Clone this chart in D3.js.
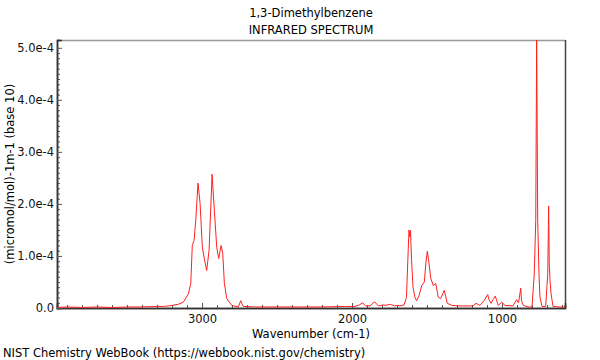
<!DOCTYPE html>
<html><head><meta charset="utf-8">
<script src="https://cdn.jsdelivr.net/npm/d3@7"></script>
<style>body{margin:0;background:#fff}svg{display:block;font-family:"DejaVu Sans",sans-serif}</style>
</head><body><svg id="c" width="600" height="360"></svg>
<script>
const title = "1,3-Dimethylbenzene";
const subtitle = "INFRARED SPECTRUM";
const xLabel = "Wavenumber (cm-1)";
const yLabel = "(micromol/mol)-1m-1 (base 10)";
const footer = "NIST Chemistry WebBook (https://webbook.nist.gov/chemistry)";
const xTickValues = [3000, 2000, 1000];
const xTickLabels = ["3000", "2000", "1000"];
const yTickValues = [0, 1, 2, 3, 4, 5];           // in units of 1e-4
const yTickLabels = ["0.0", "1.0e-4", "2.0e-4", "3.0e-4", "4.0e-4", "5.0e-4"];
// spectrum: wavenumber (cm-1) and absorbance coefficient (units of 1e-4)
const wavenumber = [3967, 3900, 3800, 3700, 3600, 3500, 3400, 3300, 3250, 3200, 3160, 3125, 3091, 3075, 3065, 3053, 3042, 3027, 3013, 2998, 2985, 2969, 2953, 2933, 2918, 2902, 2889, 2873, 2862, 2851, 2835, 2802, 2758, 2742, 2725, 2650, 2500, 2350, 2200, 2050, 1980, 1950, 1930, 1910, 1880, 1849, 1825, 1790, 1775, 1750, 1735, 1715, 1700, 1680, 1653, 1637, 1625, 1620, 1615, 1610, 1603, 1593, 1580, 1569, 1553, 1535, 1518, 1507, 1498, 1489, 1475, 1458, 1442, 1425, 1409, 1385, 1365, 1333, 1290, 1247, 1193, 1173, 1147, 1120, 1095, 1087, 1073, 1060, 1045, 1033, 1025, 1002, 980, 927, 902, 890, 875, 870, 858, 827, 800, 785, 775, 769, 762, 753, 747, 733, 709, 700, 695, 689, 685, 680, 673, 660, 620, 580];
const absorbance = [0.01, 0.02, 0.01, 0.02, 0.01, 0.02, 0.02, 0.03, 0.03, 0.05, 0.07, 0.11, 0.27, 0.47, 1.20, 1.30, 1.68, 2.40, 2.01, 1.17, 0.95, 0.72, 1.11, 2.57, 1.88, 1.17, 0.95, 1.20, 1.05, 0.47, 0.18, 0.05, 0.02, 0.14, 0.03, 0.02, 0.02, 0.02, 0.02, 0.03, 0.03, 0.06, 0.10, 0.04, 0.04, 0.12, 0.04, 0.06, 0.05, 0.07, 0.06, 0.04, 0.05, 0.04, 0.06, 0.20, 1.14, 1.50, 1.37, 1.49, 0.91, 0.39, 0.20, 0.14, 0.24, 0.43, 0.50, 0.88, 1.09, 0.91, 0.57, 0.43, 0.47, 0.21, 0.18, 0.34, 0.09, 0.05, 0.04, 0.04, 0.04, 0.09, 0.05, 0.14, 0.26, 0.16, 0.09, 0.16, 0.23, 0.12, 0.05, 0.11, 0.05, 0.04, 0.16, 0.10, 0.38, 0.14, 0.05, 0.02, 0.02, 0.66, 1.68, 5.20, 1.68, 0.62, 0.21, 0.03, 0.03, 0.43, 0.66, 1.96, 0.86, 0.53, 0.28, 0.03, 0.02, 0.02];

const svg = d3.select("#c");
const L = 57, R = 565, T = 40, B = 308;
const FS = 11.5;
const x = d3.scaleLinear().domain([3967, 580]).range([L, R]);
const y = d3.scaleLinear().domain([0, 5.15]).range([B, T]);

svg.append("defs").append("clipPath").attr("id", "clip")
  .append("rect").attr("x", L).attr("y", T).attr("width", R - L).attr("height", B - T);

// frame top/right
svg.append("line").attr("x1", L).attr("x2", R).attr("y1", T + 0.5).attr("y2", T + 0.5).attr("stroke", "#999").attr("stroke-width", 1.5);
svg.append("line").attr("x1", R + 0.5).attr("x2", R + 0.5).attr("y1", T).attr("y2", B).attr("stroke", "#444").attr("stroke-width", 1.5);

// x axis (ticks inward)
const xMinor = d3.range(600, 3967, 100).filter(v => v % 1000 !== 0);
const gx = svg.append("g").attr("transform", `translate(0,${B})`);
gx.call(d3.axisBottom(x).tickValues(xMinor).tickSize(-3).tickFormat(""));
gx.append("g").call(d3.axisBottom(x).tickValues(xTickValues).tickSize(-5).tickPadding(7)
  .tickFormat((d, i) => xTickLabels[i]));
gx.selectAll(".domain").attr("stroke", "#333").attr("stroke-width", 1.5);
gx.selectAll(".tick line").attr("stroke", "#555");
gx.selectAll("text").attr("font-size", FS).attr("font-family", "DejaVu Sans").attr("fill", "#111");

// y axis (ticks inward)
const yMinor = d3.range(0, 51, 1).map(v => v / 10).filter(v => Math.abs(v - Math.round(v)) > 1e-9);
const gy = svg.append("g").attr("transform", `translate(${L},0)`);
gy.call(d3.axisLeft(y).tickValues(yMinor).tickSize(-3).tickFormat(""));
gy.append("g").call(d3.axisLeft(y).tickValues(yTickValues).tickSize(-5).tickPadding(3)
  .tickFormat((d, i) => yTickLabels[i]));
gy.selectAll(".domain").attr("stroke", "#333").attr("stroke-width", 1.5);
gy.selectAll(".tick line").attr("stroke", "#555");
gy.selectAll("text").attr("font-size", FS).attr("font-family", "DejaVu Sans").attr("fill", "#111");

// spectrum
const pts = wavenumber.map((w, i) => [w, absorbance[i]]);
svg.append("path").datum(pts)
  .attr("clip-path", "url(#clip)")
  .attr("fill", "none").attr("stroke", "#ff2020").attr("stroke-width", 1)
  .attr("stroke-linejoin", "round")
  .attr("d", d3.line().x(d => x(d[0])).y(d => y(d[1])));

// texts
svg.append("text").attr("x", (L + R) / 2).attr("y", 17).attr("text-anchor", "middle").attr("font-size", FS).text(title);
svg.append("text").attr("x", (L + R) / 2).attr("y", 34).attr("text-anchor", "middle").attr("font-size", FS).text(subtitle);
svg.append("text").attr("x", (L + R) / 2).attr("y", 338).attr("text-anchor", "middle").attr("font-size", FS).text(xLabel);
svg.append("text").attr("transform", `translate(14,${(T + B) / 2}) rotate(-90)`).attr("text-anchor", "middle").attr("font-size", FS).text(yLabel);
svg.append("text").attr("x", 3).attr("y", 357).attr("font-size", FS).text(footer);
</script></body></html>
